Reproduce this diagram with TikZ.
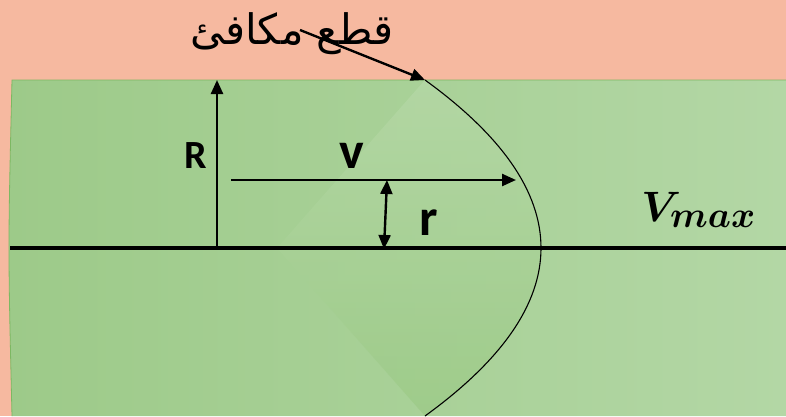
\documentclass[tikz,border=0pt]{standalone}
\usepackage{amsmath}
\usepackage{bm}
\usepackage{fontspec}
\setmainfont{Carlito}
\newfontfamily\arabicfont[Script=Arabic]{DejaVu Sans}
\TeXXeTstate=1
\usetikzlibrary{arrows.meta}
\definecolor{salmon}{HTML}{F6B9A0}
\definecolor{gL}{HTML}{9DCA89}
\definecolor{gR}{HTML}{B3D7A5}
\definecolor{gEdge}{HTML}{7DB862}
\definecolor{wLight}{HTML}{B5D8A6}
\definecolor{wDark}{HTML}{9CCA87}
\tikzset{
  tip/.tip={Triangle[length=14pt,width=12pt]},
  arr/.style={line width=2.4pt,-tip},
  darr/.style={line width=2.4pt,tip-tip},
  lab/.style={font=\bfseries\fontsize{52}{54}\selectfont,anchor=base,inner sep=0pt},
}
\begin{document}
\begin{tikzpicture}[x=1pt,y=-1pt]
\useasboundingbox (0,0) rectangle (786,416);
\fill[salmon] (0,0) rectangle (786,416);
% pipe
\shade[left color=gL,right color=gR] (12,80) -- (786,80) -- (786,416) -- (12,416) .. controls (8,248) .. (12,80) -- cycle;
\draw[gEdge,line width=0.8pt] (786,80) -- (12,80) .. controls (8,248) .. (12,416);
% parabola wedge
\shade[top color=wLight,bottom color=wDark,opacity=0.8] (425,80) .. controls (502.3,136) and (541,192) .. (541,248) .. controls (541,304) and (502.3,360) .. (425,416) -- (277,248) -- cycle;
% axis
\coordinate (axL) at (10,248);
\coordinate (axR) at (786,248);
\draw[line width=3.5pt] (axL) -- (axR);
% parabola profile
\coordinate (ptop) at (425,80);
\coordinate (pvert) at (541,248);
\coordinate (pbot) at (425,416);
\draw[line width=1.1pt] (ptop) .. controls (502.3,136) and (541,192) .. (pvert) .. controls (541,304) and (502.3,360) .. (pbot);
% R arrow
\coordinate (r0) at (217,249);
\coordinate (r1) at (217,80);
\draw[arr] (r0) -- (r1);
\node[lab,font=\bfseries\fontsize{40}{42}\selectfont] (Rl) at (196,168) {R};
% v arrow
\coordinate (v0) at (231,180);
\coordinate (v1) at (516,180);
\draw[arr] (v0) -- (v1);
\node[lab] (vl) at (352,168) {v};
% r arrow
\coordinate (s0) at (387,180);
\coordinate (s1) at (384,249);
\draw[darr] (s0) -- (s1);
\node[lab] (rl) at (429,235) {r};
% Vmax
\node[anchor=base west,inner sep=0pt,font=\fontsize{20}{22}\selectfont,scale=2.05] (vmax) at (641,221) {$\bm{V}_{\scalebox{0.86}{$\bm{max}$}}$};
% Arabic label
\node[anchor=base,inner sep=0pt,font=\arabicfont\fontsize{42}{44}\selectfont] (para) at (292,44) {\beginR قطع مكافئ\endR};
\coordinate (a0) at (300,30);
\draw[arr] (a0) -- (ptop);
\end{tikzpicture}
\end{document}
